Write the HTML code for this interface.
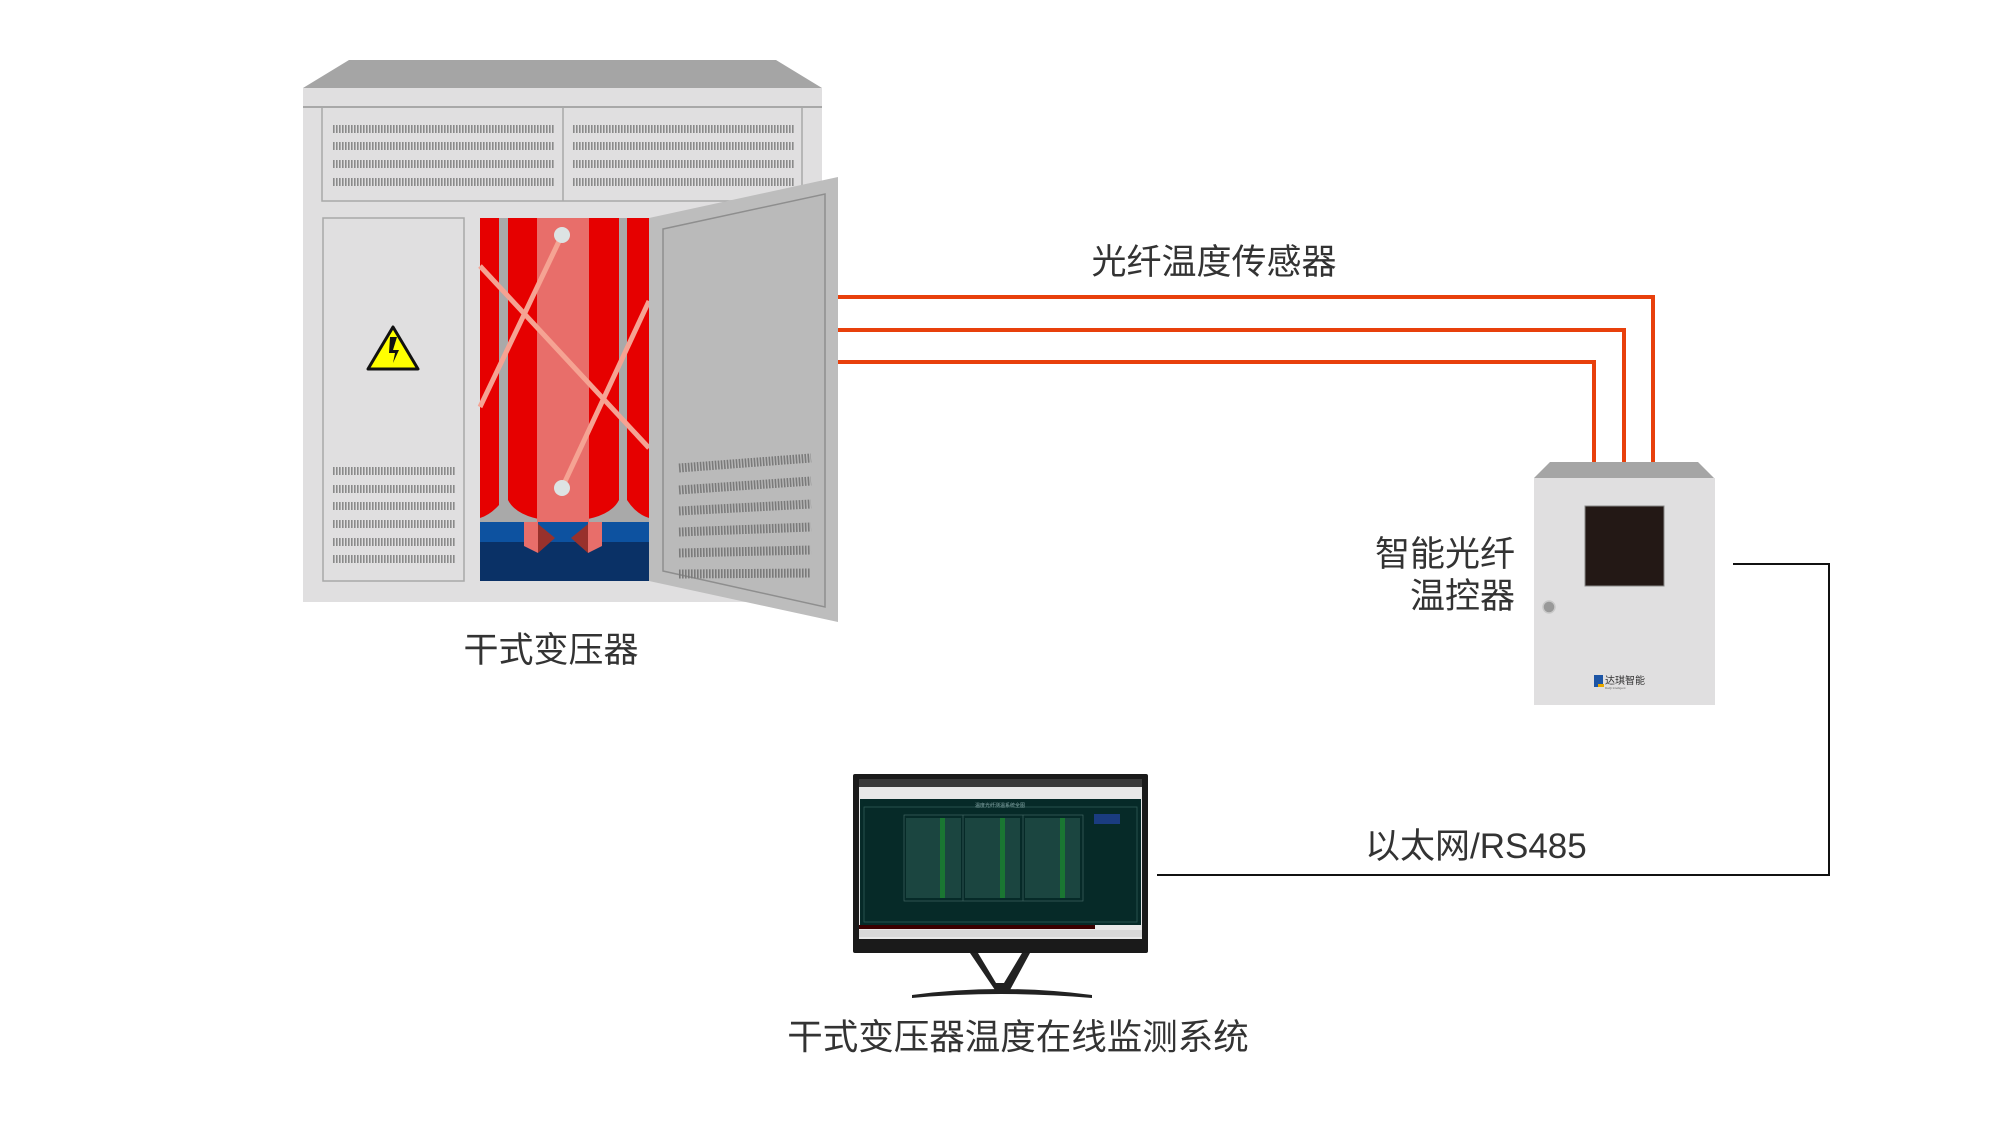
<!DOCTYPE html>
<html><head><meta charset="utf-8"><style>
html,body{margin:0;padding:0;background:#fff;}
svg{display:block;}
text{font-family:"Liberation Sans","Noto Sans CJK SC",sans-serif;fill:#333;}
</style></head><body>
<svg width="2000" height="1125" viewBox="0 0 2000 1125" xmlns="http://www.w3.org/2000/svg">
<defs>
<pattern id="vent" width="3" height="8" patternUnits="userSpaceOnUse"><rect width="1.6" height="8" fill="#8a8a8a"/></pattern>
</defs>
<!-- Transformer -->
<polygon points="349,60 776,60 822,88 303,88" fill="#a5a5a5"/>
<rect x="303" y="88" width="519" height="514" fill="#e0dfe0"/>
<line x1="303" y1="107" x2="822" y2="107" stroke="#a8a8a8" stroke-width="2"/>
<rect x="322" y="107" width="480" height="94" fill="none" stroke="#a8a8a8" stroke-width="1.5"/>
<line x1="563" y1="107" x2="563" y2="201" stroke="#a8a8a8" stroke-width="1.5"/>
<g fill="url(#vent)">
<rect x="333" y="125" width="221" height="8"/><rect x="333" y="142" width="221" height="8"/><rect x="333" y="160" width="221" height="8"/><rect x="333" y="178" width="221" height="8"/>
<rect x="573" y="125" width="221" height="8"/><rect x="573" y="142" width="221" height="8"/><rect x="573" y="160" width="221" height="8"/><rect x="573" y="178" width="221" height="8"/>
</g>
<rect x="323" y="218" width="141" height="363" fill="#e0dfe0" stroke="#a8a8a8" stroke-width="1.5"/>
<g fill="url(#vent)">
<rect x="333" y="467" width="122" height="8"/><rect x="333" y="485" width="122" height="8"/><rect x="333" y="502" width="122" height="8"/><rect x="333" y="520" width="122" height="8"/><rect x="333" y="538" width="122" height="8"/><rect x="333" y="555" width="122" height="8"/>
</g>
<polygon points="393,327 418,369 368,369" fill="#ffff00" stroke="#111" stroke-width="3" stroke-linejoin="round"/>
<polygon points="390,337 397,337 393,350 399,350 393,363 395,353 389,353" fill="#111"/>
<!-- coil -->
<rect x="480" y="218" width="169" height="363" fill="#a9a9a9"/>
<path d="M480,218 H499 V505 Q490,515 480,518 Z" fill="#e60000"/>
<path d="M508,218 H619 V500 Q609,520 563,522 Q518,520 508,500 Z" fill="#e60000"/>
<path d="M627,218 H649 V518 Q636,514 627,500 Z" fill="#e60000"/>
<path d="M537,218 H589 V522 H537 Z" fill="#e86e6a"/>
<rect x="480" y="522" width="169" height="20" fill="#0d52a0"/>
<rect x="480" y="542" width="169" height="39" fill="#0a3166"/>
<polygon points="524,522 538,522 538,553 524,546" fill="#e86e6a"/>
<polygon points="538,524 555,538 538,553" fill="#98312c"/>
<polygon points="588,522 602,522 602,546 588,553" fill="#e86e6a"/>
<polygon points="588,524 571,538 588,553" fill="#98312c"/>
<g stroke="#f5a393" stroke-width="5" fill="none">
<line x1="562" y1="235" x2="480" y2="407"/>
<line x1="480" y1="266" x2="649" y2="448"/>
<line x1="649" y1="301" x2="562" y2="488"/>
</g>
<circle cx="562" cy="235" r="8" fill="#dde3e3"/>
<circle cx="562" cy="488" r="8" fill="#dde3e3"/>
<!-- door -->
<polygon points="649,218 838,177 838,622 649,581" fill="#bdbdbd"/>
<polygon points="663,229 825,194 825,607 663,571" fill="#bababa" stroke="#8e8e8e" stroke-width="1.5"/>
<g stroke="#7a7a7a" stroke-dasharray="1.6 1.4">
<path d="M679,468 L811,458 M679,490 L811,481 M679,511 L811,504 M679,532 L811,527 M679,553 L811,550 M679,574 L811,573" stroke-width="9"/>
</g>
<text x="551" y="662" font-size="35" text-anchor="middle">干式变压器</text>
<!-- fibers -->
<g stroke="#e8400c" stroke-width="4" fill="none">
<polyline points="838,297 1653,297 1653,464"/>
<polyline points="838,330 1624,330 1624,464"/>
<polyline points="838,362 1594,362 1594,464"/>
</g>
<text x="1214" y="274" font-size="35" text-anchor="middle">光纤温度传感器</text>
<!-- controller -->
<polygon points="1550,462 1698,462 1714,478 1534,478" fill="#a5a5a5"/>
<rect x="1534" y="478" width="181" height="227" fill="#e0dfe0"/>
<rect x="1585" y="506" width="79" height="80" fill="#231815" stroke="#888" stroke-width="1"/>
<circle cx="1549" cy="607" r="6" fill="#999" stroke="#c8c8c8" stroke-width="1.5"/>
<rect x="1594" y="675" width="9" height="12" fill="#1d55a5"/>
<rect x="1598" y="684" width="6" height="3" fill="#e8a800"/>
<text x="1605" y="684" font-size="10" style="fill:#333">达琪智能</text>
<text x="1605" y="689" font-size="3" style="fill:#666">DaQi Intelligent</text>
<text x="1515" y="566" font-size="35" text-anchor="end">智能光纤</text>
<text x="1515" y="608" font-size="35" text-anchor="end">温控器</text>
<!-- ethernet -->
<polyline points="1733,564 1829,564 1829,875 1157,875" stroke="#111" stroke-width="2" fill="none"/>
<text x="1365" y="858" font-size="35">以太网/RS485</text>
<!-- monitor -->
<rect x="853" y="774" width="295" height="179" fill="#1a1a1a" rx="2"/>
<rect x="859" y="779" width="283" height="160" fill="#e8e8e8"/>
<rect x="859" y="779" width="283" height="8" fill="#3a3a3a"/>
<rect x="860" y="799" width="281" height="126" fill="#062a28"/>
<rect x="864" y="807" width="273" height="115" fill="none" stroke="#2e5a55" stroke-width="0.8"/>
<text x="1000" y="807" font-size="5" text-anchor="middle" style="fill:#8aa">温度光纤测温系统全图</text>
<g fill="none" stroke="#4a6e6a" stroke-width="0.6">
<rect x="904" y="815" width="179" height="86"/>
<line x1="963" y1="815" x2="963" y2="901"/><line x1="1023" y1="815" x2="1023" y2="901"/>
</g>
<g fill="#2f6058">
<rect x="906" y="818" width="55" height="80" opacity=".5"/>
<rect x="965" y="818" width="55" height="80" opacity=".5"/>
<rect x="1025" y="818" width="55" height="80" opacity=".5"/>
</g>
<g fill="#19d119">
<rect x="940" y="818" width="5" height="80" opacity=".35"/>
<rect x="1000" y="818" width="5" height="80" opacity=".35"/>
<rect x="1060" y="818" width="5" height="80" opacity=".35"/>
</g>
<rect x="1094" y="814" width="26" height="10" fill="#1a3c80"/>
<rect x="859" y="925" width="236" height="4" fill="#3a0000"/>
<rect x="859" y="930" width="283" height="7" fill="#d8d8d8"/>
<path d="M970,953 L995,990 L1010,990 L1030,953 L1022,953 L1004,983 L996,983 L978,953 Z" fill="#222"/>
<path d="M912,995 Q1000,983 1092,995 L1092,998 Q1000,990 912,998 Z" fill="#222"/>
<text x="1018" y="1049" font-size="35.5" text-anchor="middle">干式变压器温度在线监测系统</text>
</svg>
</body></html>
